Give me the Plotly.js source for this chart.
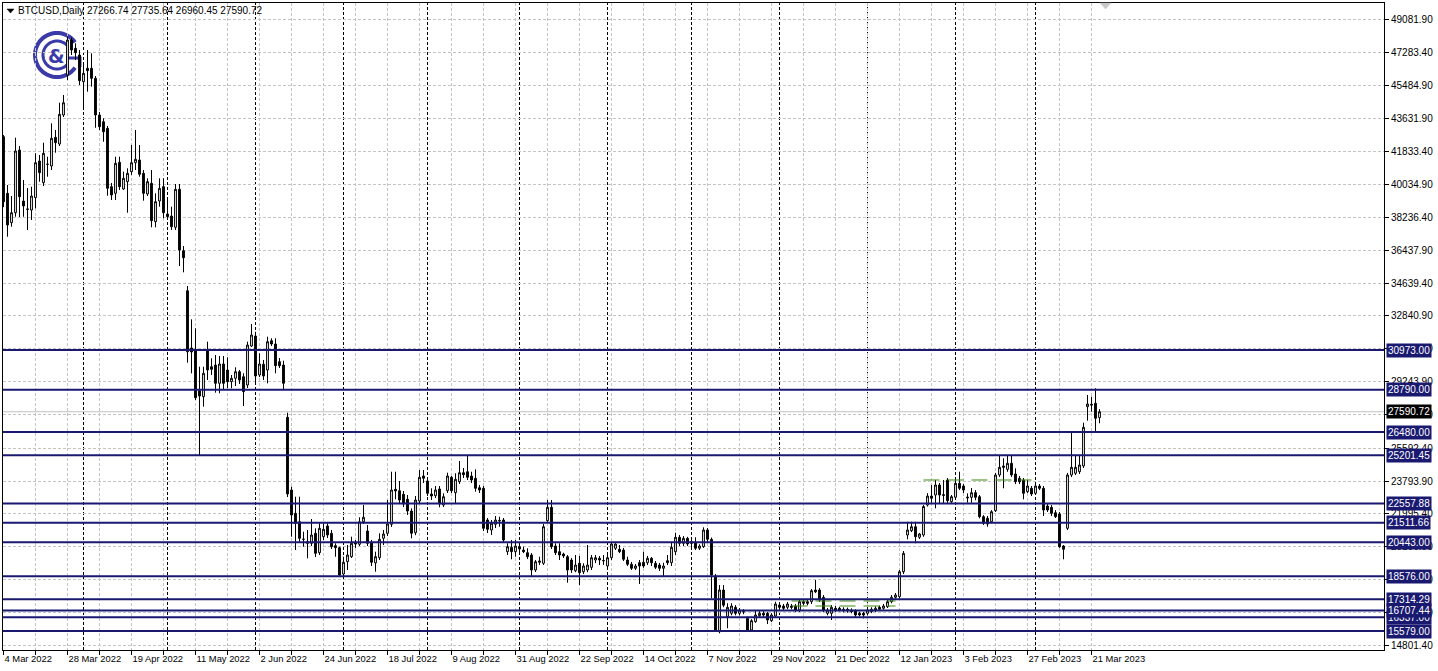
<!DOCTYPE html>
<html><head><meta charset="utf-8">
<script src="https://cdn.plot.ly/plotly-3.0.1.min.js"></script>
<style>html,body{margin:0;padding:0;background:#fff;overflow:hidden}#chart{width:1438px;height:671px}</style>
</head><body><div id="chart"></div>
<script>
// ---------------- data ----------------
const symbolTitle = "BTCUSD,Daily";
const firstDate = "2022-03-04";   // first daily bar (weekday bars only)
const open = [42658,39557,37947,38494,41929,39135,38700,38642,39316,41326,40138,41150,41053,42625,42258,43846,46038,47955,47500,47133,45671,46404,46404,45857,43846,43479,43118,39919,39557,41255,39793,40193,40740,41233,41381,40653,39519,40105,38001,39135,39919,38423,38314,37694,39776,36413,34221,31083,30973,28743,28415,30973,30058,30151,29149,30206,29877,29237,29423,29784,29510,29056,31192,31740,29604,30190,29877,31482,31302,30332,30151,27286,23304,22027,21567,20610,20472,20384,20932,19869,20746,21332,20932,20253,20143,18702,19376,19650,20417,20329,21567,21058,20417,19310,19595,20658,20932,21425,23342,23265,23068,22795,22153,20965,22701,24071,23797,23085,22991,23359,22482,23265,24000,23156,23758,24252,24306,24071,23945,23430,23397,21661,21113,21425,21640,21661,19925,20165,19925,20198,20017,19869,19743,18922,19343,19288,21622,22356,20236,19925,19798,19650,19469,18882,19288,18828,18922,19069,19469,19562,19440,19140,19595,20110,20056,20017,19469,19233,19014,19322,19343,19322,19562,19288,19195,19014,19431,19322,19925,20713,20384,20658,20472,20417,20110,20198,21113,20603,18593,15542,17826,16363,16549,16878,16549,16650,16275,15635,16089,16418,16549,16549,16144,16402,17004,16949,16878,16949,16949,16730,17185,17185,17185,17826,17826,17426,16549,16549,16823,16823,16769,16769,16730,16675,16549,16549,16549,16640,16692,16878,16823,16912,17185,17426,17459,18828,20839,21075,21293,20713,20839,22480,22971,23030,23578,23050,23852,22663,22904,23671,23523,22920,22904,23156,22937,21841,21754,21567,22170,24125,24619,24437,24766,24180,23945,23852,23211,23397,23123,23523,23397,22427,22356,22060,21989,20236,21206,24125,24218,24306,24619,27867,28000,28053,27266.74];
const high = [42750,40012,39409,42603,42148,40286,39847,39919,41748,41655,42329,41562,43392,43025,44520,44942,48136,48100,47774,47407,46678,47407,47226,45983,44011,43666,43244,40121,41562,41562,40740,40926,42203,43025,42203,40833,40379,40833,39557,40379,40379,39190,38823,40066,40066,36670,34479,32655,32162,30058,30058,31428,30518,30699,30644,30644,30573,29604,30025,29877,29697,31428,32397,31975,30792,30425,31702,31614,31614,30535,30387,27538,23485,22937,22937,21019,21113,21715,21206,21480,21480,21480,21113,20384,20198,19650,20291,20746,20565,21808,22482,21387,20565,19925,20932,21113,22756,24306,24306,23797,23250,23030,22300,22975,24400,24400,23850,23397,23523,23523,23121,24252,24071,24219,24892,24509,25221,24306,24438,23578,23523,21770,21661,21880,21840,21770,20384,20565,20565,20400,20198,20110,19850,19470,19650,21441,22756,22756,20384,20384,19870,19743,19580,19743,19689,19288,20291,19743,19743,19689,19743,19743,20417,20384,20291,20130,19650,19360,19250,19470,19925,19689,19630,19414,19310,19322,19743,20472,20965,20839,20780,20740,20675,20713,20330,21260,21220,20700,18700,18100,18100,17100,17100,17000,16840,16780,16360,16230,16730,16670,16670,16620,16560,17185,17115,17060,17170,17060,17060,17280,17280,17280,17880,18374,17930,17550,16840,17000,16950,16900,16880,16860,16820,16770,16640,16620,16840,16880,16930,16970,17060,17280,17550,17660,18922,19960,21567,21567,21567,20950,22480,23130,23578,23852,23690,23852,23960,23030,23852,24306,23630,23120,23410,23300,23030,21930,21880,22200,24240,25221,25040,25221,25221,24493,24070,23960,23852,23523,23630,23630,23523,22540,22480,22200,22100,20290,24240,26498,25221,25221,26990,28508,28415,28875,27735.64];
const low = [38800,37180,37727,38275,38259,38275,37547,38094,38735,40193,39957,40466,40833,41781,42148,43737,45764,47133,46859,45490,44213,45123,45397,43150,43025,42383,39426,39190,39190,39738,39738,38494,40560,40833,40466,39152,39409,37694,37694,38823,38187,38094,37547,37547,35575,35229,30277,29697,28234,25221,27867,29330,29604,28634,28601,28782,28891,28875,29001,29110,27905,28891,31137,29149,29494,29330,29149,31192,29697,29987,28820,22920,20746,20017,20472,20198,19562,20236,19634,19743,20565,20675,20072,19650,18593,18593,18922,19580,20130,20236,21450,20236,19140,18828,19470,20290,20780,21280,22795,22590,22370,21934,20658,20830,22537,23687,22975,22756,22866,22356,22373,23140,23140,22575,23632,23961,23852,23687,23211,23140,21058,20948,20839,21220,21290,20450,19743,19508,19650,19900,19850,19520,18593,18810,19200,19200,21500,20072,19743,19469,19580,18226,18760,18800,18100,18700,18800,18922,19300,19195,19200,18977,19469,20017,19850,19414,19140,18922,18922,18155,19040,19195,19140,18977,18870,18557,19195,19140,19743,20236,20236,20236,20180,20017,20017,20130,20450,17371,15542,15453,16884,15728,16440,16440,16440,16500,15580,15580,16030,16350,16350,15960,16070,16310,16770,16730,16770,16770,16620,16620,16990,16990,17060,17660,17170,16620,16440,16182,16620,16650,16600,16580,16550,16350,16380,16270,16440,16560,16620,16690,16750,16840,17100,17350,17370,18700,20603,21000,20384,20620,20740,22400,22600,22301,22540,22540,22540,22590,22800,23300,23140,22610,22610,22740,21750,21390,21290,21480,22100,24020,23397,24300,24020,23630,23630,22795,23140,22975,23030,23300,21880,22100,21880,21770,20130,19508,21113,24020,24125,24180,24510,27100,27600,26536,26960.45];
const close = [39097,37821,38494,41874,39371,38861,38681,39409,41233,40686,41748,41146,42570,42329,43885,44520,47955,47407,47259,45726,46131,46273,45857,43846,43205,42931,39831,39464,41200,39919,40379,40653,41233,41420,40598,39557,40193,38056,39097,39831,38494,38275,37727,39776,36451,36029,30880,30863,28360,28453,29697,29877,29916,29149,30206,29149,29237,29423,29784,29330,28689,31247,31795,29549,30206,29549,31428,31302,30113,30113,29149,23085,21934,21480,20658,20603,20384,20839,19836,21206,21151,20839,20198,20143,18648,19343,19743,20384,20346,21567,21808,20384,19343,19650,20603,20893,21441,23304,23249,22756,22537,22153,20932,22756,24000,23945,23123,22975,23304,22537,22937,24071,23265,23890,24252,24142,24000,23852,23397,23304,21206,21151,21480,21661,21620,20565,20198,19925,20236,20072,19925,19650,18922,19376,19414,21293,22356,20198,19869,19743,19689,18922,18922,19195,18773,19140,19195,19595,19595,19469,19430,19595,20346,20346,19925,19508,19233,19014,19140,19140,19140,19562,19322,19069,19014,19140,19322,20165,20713,20384,20658,20346,20384,20110,20236,21113,20603,18648,15635,17826,16994,16878,16949,16549,16730,16630,15635,16144,16456,16549,16456,16182,16456,17059,16878,16822,17059,16878,16730,17185,17097,17097,17788,17733,17278,16730,16730,16878,16730,16730,16692,16675,16640,16456,16456,16456,16730,16769,16823,16769,16949,17185,17426,17552,18828,19836,21113,21293,20746,20893,22397,22971,22850,23578,23030,23010,22718,22937,23671,23397,23304,22880,23156,22904,21841,21480,21441,22115,24125,24547,24547,24766,24125,23759,23759,23123,23523,23085,23523,23397,22208,22208,22027,21841,20198,20056,24125,24547,24547,24673,26738,28015,27960,27232,27590.72];
const xTickText = ["4 Mar 2022","28 Mar 2022","19 Apr 2022","11 May 2022","2 Jun 2022","24 Jun 2022","18 Jul 2022","9 Aug 2022","31 Aug 2022","22 Sep 2022","14 Oct 2022","7 Nov 2022","29 Nov 2022","21 Dec 2022","12 Jan 2023","3 Feb 2023","27 Feb 2023","21 Mar 2023"];
const yTickVals = [49081.9,47283.4,45484.9,43631.9,41833.4,40034.9,38236.4,36437.9,34639.4,32840.9,31042.4,29243.9,27445.4,25592.4,23793.9,21995.4,20196.9,18398.4,16599.9,14801.4];
const levels = [30973.00,28790.00,26480.00,25201.45,22557.88,21511.66,20443.00,18576.00,17314.29,16337.00,16707.44,15579.00];
const greenPrices = [17223, 16949, 23852];
const greenFromDate = ["2022-12-06","2022-12-06","2023-01-20"];
const greenToDate = ["2023-01-11","2023-01-11","2023-02-28"];

// ---------------- calendar (weekday bars) ----------------
const dates = [];
{ const d = new Date(firstDate + "T00:00:00Z");
  while (dates.length < open.length) {
    const wd = d.getUTCDay();
    if (wd !== 0 && wd !== 6) dates.push(d.toISOString().slice(0, 10));
    d.setUTCDate(d.getUTCDate() + 1);
  } }
const n = dates.length;
const last = n - 1;

// ---------------- geometry helpers (pixels -> paper) ----------------
const W = 1438, H = 671, ML = 3, MR = 54, MT = 3, MB = 21;
const PW = W - ML - MR, PH = H - MT - MB;
const px = x => (x - ML) / PW;
const py = y => (H - MB - y) / PH;
const NAVY = '#191970';

const shapes = [];
const annotations = [];

// month separators (black dashed)
for (let i = 1; i < n; i++) {
  if (dates[i].slice(0, 7) !== dates[i - 1].slice(0, 7)) {
    shapes.push({type:'line', xref:'x', yref:'paper', x0:i, x1:i, y0:0, y1:1,
      line:{color:'#000', width:1, dash:'3px,2px'}, layer:'below'});
  }
}
// current price line
shapes.push({type:'line', xref:'paper', yref:'y', x0:0, x1:1, y0:close[last], y1:close[last],
  line:{color:'#c0c0c0', width:1}, layer:'below'});
// green dashed lines
for (let k = 0; k < greenPrices.length; k++) {
  shapes.push({type:'line', xref:'x', yref:'y', x0:dates.indexOf(greenFromDate[k]), x1:dates.indexOf(greenToDate[k]),
    y0:greenPrices[k], y1:greenPrices[k], line:{color:'#3f8a10', width:1, dash:'16px,8px'}, layer:'above'});
}
// horizontal levels
levels.forEach(v => {
  shapes.push({type:'line', xref:'paper', yref:'y', x0:0, x1:1, y0:v, y1:v,
    line:{color:NAVY, width:2}, layer:'above'});
});

// logo (arcs)
function arc(cx, cy, r, a0, a1) {
  let s = '';
  for (let a = a0, k = 0; a <= a1 + 0.01; a += 5, k++) {
    const t = a * Math.PI / 180;
    const x = cx + r * Math.cos(t), y = cy + r * Math.sin(t);
    s += (k === 0 ? 'M ' : ' L ') + px(x).toFixed(5) + ',' + py(y).toFixed(5);
  }
  return s;
}
const LOGO = '#3a3aa8';
shapes.push({type:'path', xref:'paper', yref:'paper', path:arc(57, 55, 22, 35, 325), line:{color:LOGO, width:4}, layer:'below'});
shapes.push({type:'path', xref:'paper', yref:'paper', path:arc(57, 55, 14, 45, 315), line:{color:LOGO, width:3}, layer:'below'});
shapes.push({type:'path', xref:'paper', yref:'paper',
  path:'M ' + px(66) + ',' + py(58) + ' L ' + px(80) + ',' + py(58) + ' L ' + px(80) + ',' + py(67),
  line:{color:LOGO, width:3}, layer:'below'});
annotations.push({xref:'paper', yref:'paper', x:px(56), y:py(56), text:'<b>&amp;</b>', showarrow:false,
  font:{family:'DejaVu Sans', size:19, color:LOGO}, xanchor:'center', yanchor:'middle'});

// title
shapes.push({type:'path', xref:'paper', yref:'paper',
  path:'M '+px(7)+','+py(9)+' L '+px(14)+','+py(9)+' L '+px(10.5)+','+py(13)+' Z',
  fillcolor:'#000', line:{color:'#000', width:0.5}});
annotations.push({xref:'paper', yref:'paper', x:px(16), y:py(11), xanchor:'left', yanchor:'middle', showarrow:false,
  text: symbolTitle + ' ' + [open[last], high[last], low[last], close[last]].map(v => v.toFixed(2)).join(' '),
  font:{size:10, color:'#000'}});
// chart shift marker
shapes.push({type:'path', xref:'paper', yref:'paper',
  path:'M '+px(1100)+','+py(3)+' L '+px(1111)+','+py(3)+' L '+px(1105.5)+','+py(9)+' Z',
  fillcolor:'#c8c8c8', line:{color:'#c8c8c8', width:0.5}});

// level labels
levels.forEach(v => {
  annotations.push({xref:'paper', yref:'y', x:1, y:v, xanchor:'left', yanchor:'middle', xshift:2,
    text:v.toFixed(2), showarrow:false, bgcolor:NAVY, borderpad:1,
    font:{size:10, color:'#fff'}});
});
annotations.push({xref:'paper', yref:'y', x:1, y:close[last], xanchor:'left', yanchor:'middle', xshift:2,
  text:close[last].toFixed(2), showarrow:false, bgcolor:'#000', borderpad:1, font:{size:10, color:'#fff'}});

// x ticks every 8 bars, labels every 16
const xTickVals = [], xTickLbl = [];
for (let i = 0; i < n; i += 8) {
  xTickVals.push(dates[i]);
  xTickLbl.push(i % 16 === 0 ? xTickText[i / 16] : '');
}

const trace = {
  type:'candlestick', x:dates, open:open, high:high, low:low, close:close,
  increasing:{line:{color:'#000', width:1}, fillcolor:'#fff'},
  decreasing:{line:{color:'#000', width:1}, fillcolor:'#000'},
  whiskerwidth:0, hoverinfo:'skip', showlegend:false
};

const layout = {
  width:W, height:H, margin:{l:ML, r:MR, t:MT, b:MB, pad:0},
  paper_bgcolor:'#fff', plot_bgcolor:'#fff', showlegend:false,
  font:{family:'"Liberation Sans", Arial, sans-serif', size:10, color:'#000'},
  boxgap:0.35,
  xaxis:{type:'category', range:[-0.125, 345.125], rangeslider:{visible:false},
    tickvals:xTickVals, ticktext:xTickLbl, ticklabelposition:'outside right', tickangle:0,
    showgrid:true, gridcolor:'#c4c4c4', griddash:'3px,2px', gridwidth:1,
    showline:true, linecolor:'#000', linewidth:1, mirror:true,
    ticks:'outside', ticklen:4, tickcolor:'#000', zeroline:false, fixedrange:true,
    tickfont:{size:9.4}},
  yaxis:{side:'right', range:[14539, 49982], tickvals:yTickVals, ticktext:yTickVals.map(v => v.toFixed(2)),
    showgrid:true, gridcolor:'#c4c4c4', griddash:'3px,2px', gridwidth:1,
    showline:true, linecolor:'#000', linewidth:1, mirror:true,
    ticks:'outside', ticklen:4, tickcolor:'#000', zeroline:false, fixedrange:true,
    tickfont:{size:10}},
  shapes:shapes, annotations:annotations
};

Plotly.newPlot('chart', [trace], layout, {staticPlot:true, displayModeBar:false});
</script></body></html>
